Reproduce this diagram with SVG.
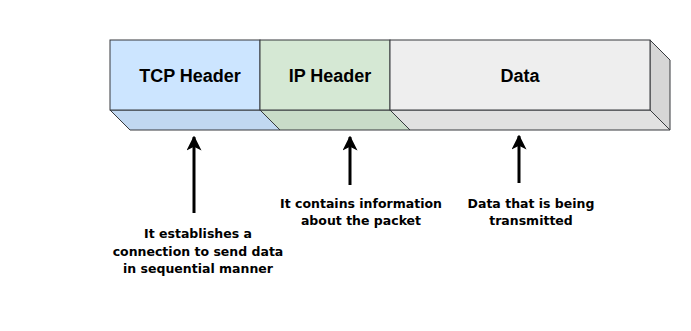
<svg xmlns="http://www.w3.org/2000/svg" width="691" height="331" viewBox="0 0 691 331">
<defs>
<style>
.face{stroke:#36393d;stroke-width:1;stroke-linejoin:miter}
.title{font-family:"Liberation Sans",Arial,sans-serif;font-weight:bold;font-size:18px;fill:#000;text-anchor:middle}
.label{font-family:"DejaVu Sans",Verdana,sans-serif;font-weight:bold;font-size:12.5px;fill:#000;text-anchor:middle}
.conn{stroke:#000;stroke-width:3;fill:none}
</style>
<marker id="arrow" viewBox="0 0 10 10" refX="9" refY="5" markerWidth="5" markerHeight="5" orient="auto" markerUnits="strokeWidth">
<path d="M0,0 L10,5 L0,10 L2.5,5 Z" fill="#000"/>
</marker>
</defs>
<rect width="691" height="331" fill="#fff"/>
<g id="tcp-header">
<polygon class="face" points="110,110 260,110 280,130 130,130" fill="#c1d8f1"/>
<rect class="face" x="110" y="40" width="150" height="70" fill="#cce5ff"/>
<text class="title" x="190" y="82">TCP Header</text>
</g>
<g id="ip-header">
<polygon class="face" points="260,110 390,110 410,130 280,130" fill="#c9dcc8"/>
<rect class="face" x="260" y="40" width="130" height="70" fill="#d5e8d4"/>
<text class="title" x="330" y="82">IP Header</text>
</g>
<g id="data">
<polygon class="face" points="390,110 650,110 670,130 410,130" fill="#e1e1e1"/>
<polygon class="face" points="650,40 670,60 670,130 650,110" fill="#d6d6d6"/>
<rect class="face" x="390" y="40" width="260" height="70" fill="#eeeeee"/>
<text class="title" x="520" y="82">Data</text>
</g>
<g id="connectors">
<line class="conn" x1="194" y1="213" x2="194" y2="137" marker-end="url(#arrow)"/>
<line class="conn" x1="350" y1="185" x2="350" y2="137" marker-end="url(#arrow)"/>
<line class="conn" x1="519" y1="183" x2="519" y2="136" marker-end="url(#arrow)"/>
</g>
<g id="label-tcp">
<text class="label" x="198" y="238">It establishes a</text>
<text class="label" x="198" y="256">connection to send data</text>
<text class="label" x="198" y="273">in sequential manner</text>
</g>
<g id="label-ip">
<text class="label" x="361" y="208">It contains information</text>
<text class="label" x="361" y="225">about the packet</text>
</g>
<g id="label-data">
<text class="label" x="531" y="208">Data that is being</text>
<text class="label" x="531" y="225">transmitted</text>
</g>
</svg>
